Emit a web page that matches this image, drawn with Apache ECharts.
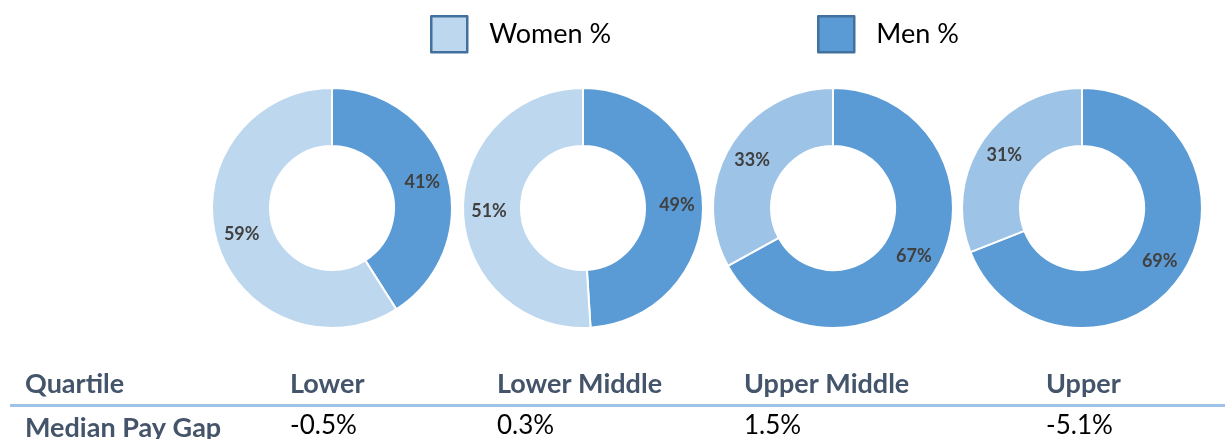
<!DOCTYPE html>
<html>
<head>
<meta charset="utf-8">
<script src="https://cdn.jsdelivr.net/npm/echarts@6/dist/echarts.min.js"></script>
<style>
html,body{margin:0;padding:0;background:#fff;}
#chart{width:1225px;height:439px;}
</style>
</head>
<body>
<div id="chart"></div>
<script>
var quartiles = ['Lower', 'Lower Middle', 'Upper Middle', 'Upper'];
var menPct = [41, 49, 67, 69];
var womenPct = [59, 51, 33, 31];
var payGap = ['-0.5%', '0.3%', '1.5%', '-5.1%'];
var rowLabels = ['Quartile', 'Median Pay Gap'];
var seriesNames = ['Women %', 'Men %'];

var MEN_COLOR = '#5B9BD5';
var WOMEN_COLORS = ['#BDD7EE', '#BDD7EE', '#9DC3E6', '#9DC3E6'];
var centersX = [332, 583, 833, 1082];
var colX = [290, 497, 744, 1046];
var FONT = 'Lato, "Open Sans", sans-serif';

var series = quartiles.map(function (q, i) {
  return {
    type: 'pie',
    name: q,
    center: [centersX[i], 208],
    radius: [62, 120],
    startAngle: 90,
    clockwise: true,
    avoidLabelOverlap: false,
    silent: true,
    itemStyle: { borderColor: '#ffffff', borderWidth: 2 },
    label: {
      show: true,
      position: 'inside',
      rotate: 0,
      formatter: '{c}%',
      color: '#404040',
      fontFamily: FONT,
      fontWeight: 'bold',
      fontSize: 18
    },
    labelLine: { show: false },
    emphasis: { disabled: true },
    data: [
      { name: seriesNames[1], value: menPct[i], itemStyle: { color: MEN_COLOR } },
      { name: seriesNames[0], value: womenPct[i], itemStyle: { color: WOMEN_COLORS[i] } }
    ]
  };
});

var graphics = [];
graphics.push({
  type: 'line',
  shape: { x1: 10, y1: 405.5, x2: 1225, y2: 405.5 },
  style: { stroke: '#9DC3E6', lineWidth: 3 },
  silent: true
});
graphics.push({
  type: 'text', x: 25, y: 384,
  style: { text: rowLabels[0], fill: '#44546A', font: 'bold 27px ' + FONT, textVerticalAlign: 'middle' }
});
graphics.push({
  type: 'text', x: 25, y: 428,
  style: { text: rowLabels[1], fill: '#44546A', font: 'bold 27px ' + FONT, textVerticalAlign: 'middle' }
});
quartiles.forEach(function (q, i) {
  graphics.push({
    type: 'text', x: colX[i], y: 384,
    style: { text: q, fill: '#44546A', font: 'bold 27px ' + FONT, textVerticalAlign: 'middle' }
  });
  graphics.push({
    type: 'text', x: colX[i], y: 426,
    style: { text: payGap[i], fill: '#000000', font: '26px ' + FONT, textVerticalAlign: 'middle' }
  });
});

function legendFor(name, left) {
  return {
    data: [name],
    left: left,
    top: 10,
    orient: 'horizontal',
    icon: 'rect',
    itemWidth: 36,
    itemHeight: 36,
    selectedMode: false,
    itemStyle: { borderColor: '#41719C', borderWidth: 2.5 },
    textStyle: { fontFamily: FONT, fontSize: 27, color: '#000000', padding: [0, 0, 0, 17] }
  };
}

var chart = echarts.init(document.getElementById('chart'), null, { renderer: 'canvas' });
chart.setOption({
  animation: false,
  backgroundColor: '#ffffff',
  legend: [legendFor(seriesNames[0], 425), legendFor(seriesNames[1], 812)],
  series: series,
  graphic: graphics
});
</script>
</body>
</html>
